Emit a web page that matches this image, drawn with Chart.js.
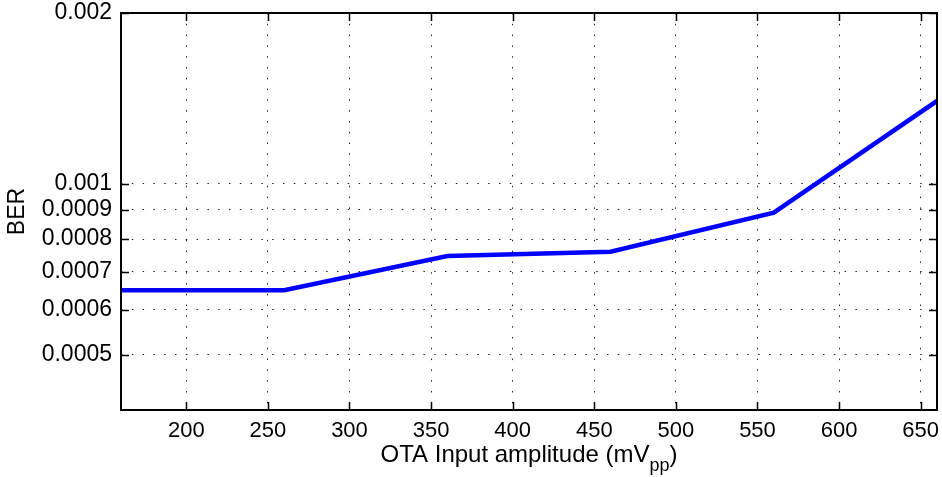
<!DOCTYPE html>
<html lang="en">
<head>
    <meta charset="UTF-8">
    <title>BER vs OTA Input amplitude</title>
    <script src="https://cdn.jsdelivr.net/npm/chart.js"></script>
    <style>
        body { margin: 0; background: #fff; overflow: hidden; }
        #wrap { width: 942px; height: 477px; }
    </style>
</head>
<body>
    <div id="wrap"><canvas id="berChart"></canvas></div>

    <script>
        // values
        const amplitudes = [160, 260, 360, 460, 560, 660];
        const berValues = [0.00065, 0.00065, 0.000747, 0.00076, 0.00089, 0.0014];

        const xTicks = [200, 250, 300, 350, 400, 450, 500, 550, 600, 650];
        const yTicks = [0.0005, 0.0006, 0.0007, 0.0008, 0.0009, 0.001, 0.002];
        const yTickLabels = ['0.0005', '0.0006', '0.0007', '0.0008', '0.0009', '0.001', '0.002'];

        const FONT = "'Liberation Sans', Arial, sans-serif";

        // box round the plot, inward tick marks, x title with subscript
        const frame = {
            id: 'frame',
            afterDraw(chart) {
                const ctx = chart.ctx;
                const a = chart.chartArea;
                const xs = chart.scales.x, ys = chart.scales.y;
                const len = 8;
                ctx.save();
                ctx.strokeStyle = '#000';
                ctx.lineWidth = 1.5;
                ctx.beginPath();
                xTicks.forEach(v => {
                    const px = Math.round(xs.getPixelForValue(v)) + 0.5;
                    ctx.moveTo(px, a.bottom); ctx.lineTo(px, a.bottom - len);
                    ctx.moveTo(px, a.top); ctx.lineTo(px, a.top + len);
                });
                yTicks.forEach(v => {
                    const py = Math.round(ys.getPixelForValue(v)) + 0.5;
                    ctx.moveTo(a.left, py); ctx.lineTo(a.left + len, py);
                    ctx.moveTo(a.right, py); ctx.lineTo(a.right - len, py);
                });
                ctx.stroke();
                ctx.lineWidth = 2;
                ctx.strokeRect(a.left, a.top, a.right - a.left, a.bottom - a.top);

                // x axis title: OTA Input amplitude (mV_pp)
                const main = '24px ' + FONT, sub = '18px ' + FONT;
                const p1 = 'OTA Input amplitude (mV', p2 = 'pp', p3 = ')';
                ctx.font = main;
                const w1 = ctx.measureText(p1).width, w3 = ctx.measureText(p3).width;
                ctx.font = sub;
                const w2 = ctx.measureText(p2).width;
                let x0 = (a.left + a.right) / 2 - (w1 + w2 + w3) / 2;
                const base = 462;
                ctx.fillStyle = '#000';
                ctx.textBaseline = 'alphabetic';
                ctx.textAlign = 'left';
                ctx.font = main;
                ctx.fillText(p1, x0, base);
                ctx.font = sub;
                ctx.fillText(p2, x0 + w1, base + 9);
                ctx.font = main;
                ctx.fillText(p3, x0 + w1 + w2, base);
                ctx.restore();
            }
        };

        const ctx = document.getElementById('berChart').getContext('2d');
        new Chart(ctx, {
            type: 'line',
            data: {
                datasets: [{
                    data: amplitudes.map((x, i) => ({ x: x, y: berValues[i] })),
                    borderColor: '#0000ff',
                    borderWidth: 4.5,
                    pointRadius: 0,
                    tension: 0,
                    fill: false
                }]
            },
            options: {
                responsive: true,
                maintainAspectRatio: false,
                animation: false,
                layout: { padding: { top: 13, right: 5, left: 0, bottom: 0 } },
                plugins: {
                    legend: { display: false },
                    tooltip: { enabled: false }
                },
                scales: {
                    x: {
                        type: 'linear',
                        min: 160,
                        max: 660,
                        afterBuildTicks: scale => { scale.ticks = xTicks.map(v => ({ value: v })); },
                        afterFit: scale => {
                            scale.height = 67;
                            scale.paddingLeft = 0;
                            scale.paddingRight = 0;
                        },
                        grid: { color: '#222', lineWidth: 1, drawTicks: false },
                        border: { display: false, dash: [1.5, 9.3] },
                        ticks: {
                            color: '#000',
                            padding: 8,
                            maxRotation: 0,
                            autoSkip: false,
                            font: { family: FONT, size: 22 }
                        }
                    },
                    y: {
                        type: 'logarithmic',
                        min: 0.0004,
                        max: 0.002,
                        afterBuildTicks: scale => { scale.ticks = yTicks.map(v => ({ value: v })); },
                        afterFit: scale => {
                            scale.width = 121;
                            scale.paddingTop = 0;
                            scale.paddingBottom = 0;
                        },
                        grid: { color: '#222', lineWidth: 1, drawTicks: false },
                        border: { display: false, dash: [1.5, 9.3] },
                        title: {
                            display: true,
                            text: 'BER',
                            color: '#000',
                            padding: { top: 4, bottom: 0 },
                            font: { family: FONT, size: 23 }
                        },
                        ticks: {
                            color: '#000',
                            padding: 9,
                            autoSkip: false,
                            font: { family: FONT, size: 23 },
                            callback: (value, index) => yTickLabels[index]
                        }
                    }
                }
            },
            plugins: [frame]
        });
    </script>
</body>
</html>
